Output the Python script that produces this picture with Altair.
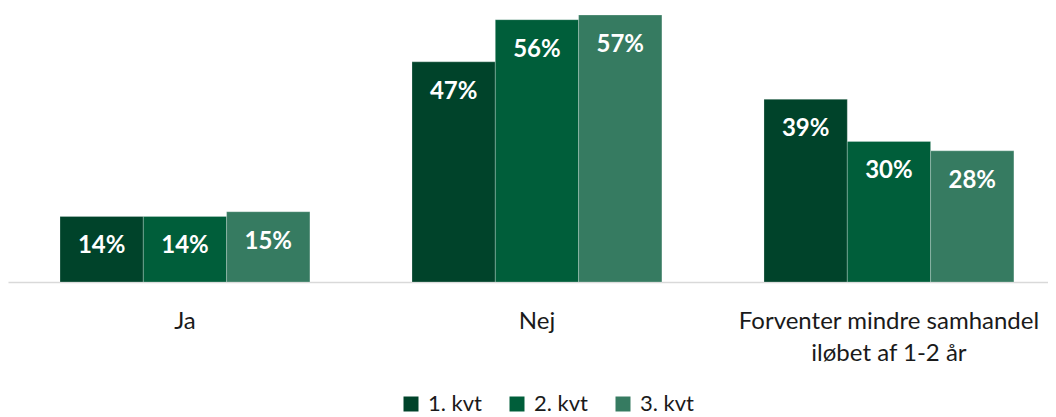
import altair as alt
import pandas as pd

categories = ["Ja", "Nej", "Forventer mindre samhandel|iløbet af 1-2 år"]
series = ["1. kvt", "2. kvt", "3. kvt"]
q1 = [14, 47, 39]
q2 = [14, 56, 30]
q3 = [15, 57, 28]
colors = ["#00432A", "#005E3A", "#367B61"]

rows = []
for i, c in enumerate(categories):
    for s, vals in zip(series, [q1, q2, q3]):
        rows.append({"cat": c, "serie": s, "value": vals[i], "label": f"{vals[i]}%"})
df = pd.DataFrame(rows)

FONT = "Lato"

x = alt.X("cat:N", sort=categories, title=None,
          scale=alt.Scale(paddingInner=0.29, paddingOuter=0.1223, align=0.604),
          axis=alt.Axis(labelExpr="split(datum.label, '|')", labelAngle=0,
                        labelFontSize=24, labelColor="#1a1a1a", labelFont=FONT,
                        labelPadding=39, labelLineHeight=32, labelBaseline="middle",
                        labelLimit=0, ticks=False, domainColor="#d9d9d9",
                        domainWidth=1.5, grid=False))
xo = alt.XOffset("serie:N", sort=series, scale=alt.Scale(paddingInner=0, paddingOuter=0))
y = alt.Y("value:Q", scale=alt.Scale(domain=[0, 58.5], nice=False, zero=True), axis=None)

base = alt.Chart(df)
bars = base.mark_bar(stroke="#ffffff", strokeWidth=0.6, strokeOpacity=0.4).encode(
    x=x, xOffset=xo, y=y,
    color=alt.Color("serie:N", sort=series,
                    scale=alt.Scale(domain=series, range=colors),
                    legend=alt.Legend(title=None, orient="none", direction="horizontal",
                                      legendX=392, legendY=385,
                                      symbolType="square", symbolSize=225,
                                      symbolStrokeWidth=0,
                                      labelFontSize=22, labelFont=FONT, labelColor="#1a1a1a",
                                      columnPadding=24, labelOffset=6)),
)
labels = base.mark_text(color="white", fontWeight="bold", fontSize=24, font=FONT,
                        dy=30, baseline="middle").encode(
    x=x, xOffset=xo, y=y, text="label:N")

chart = (bars + labels).properties(width=1040, height=274).configure(
    padding=0).configure_view(stroke=None)
chart.save("out.html", embed_options={"renderer": "svg", "actions": False})
